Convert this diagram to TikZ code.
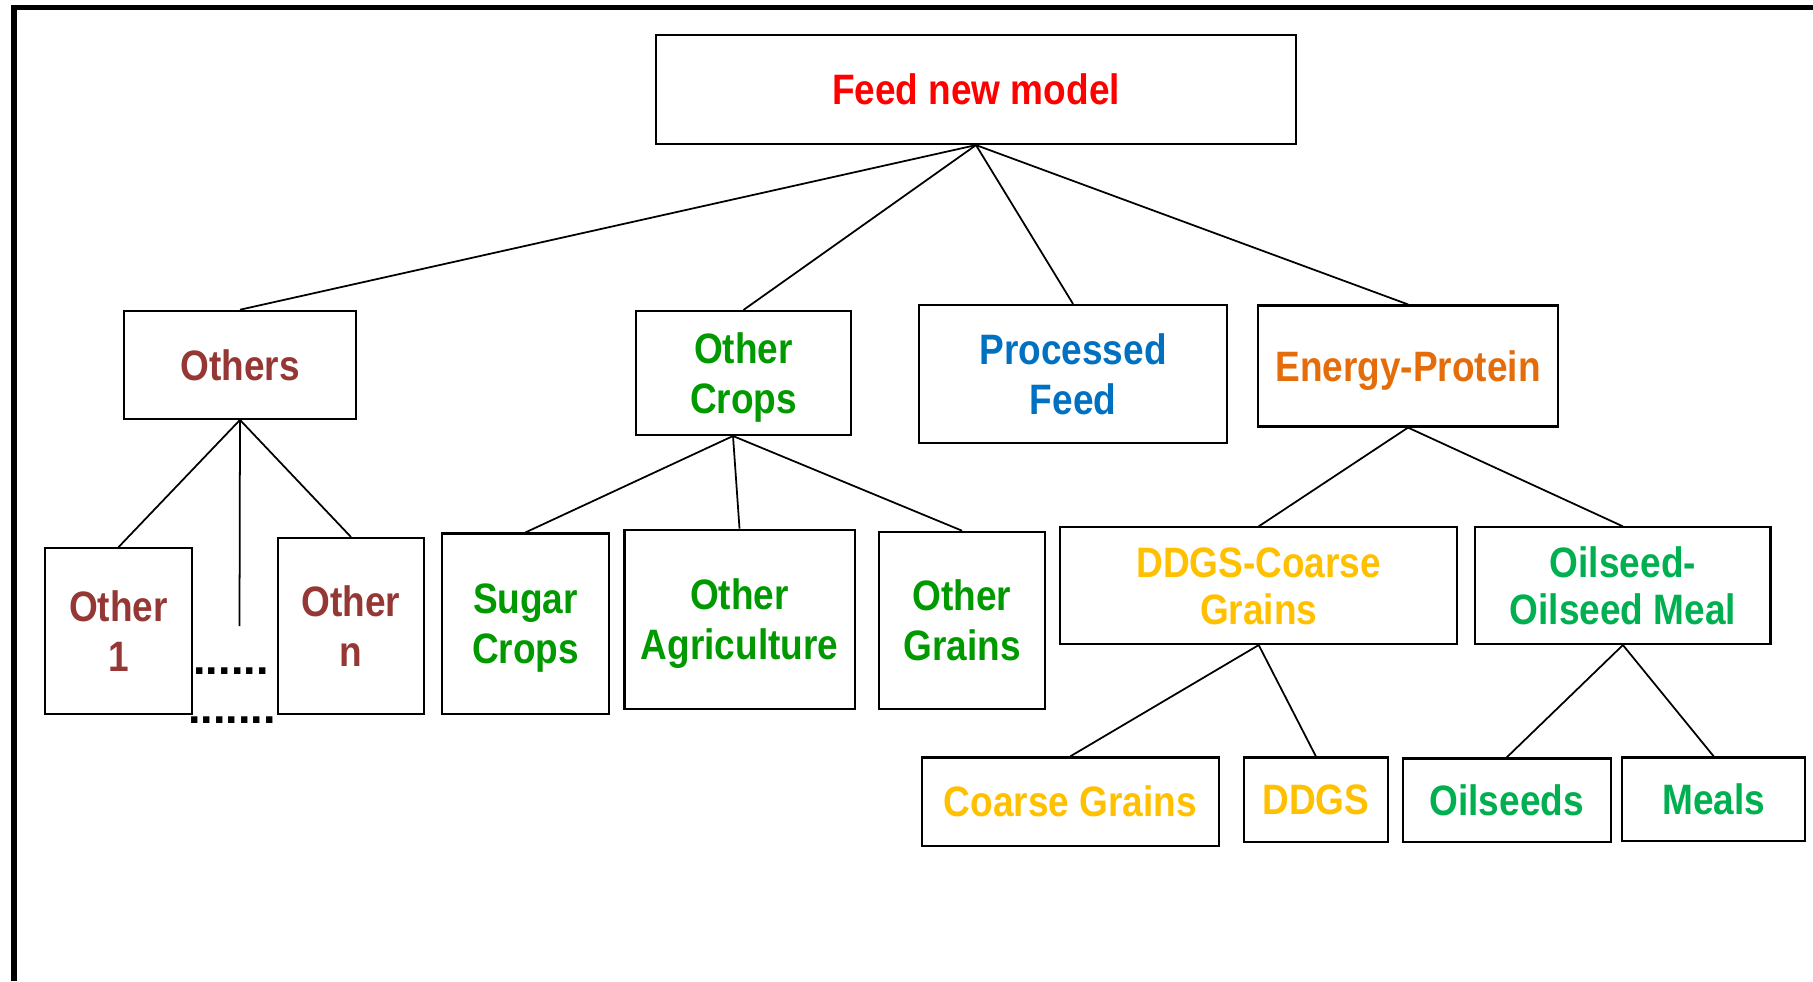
\documentclass[tikz,border=0pt]{standalone}
\usepackage{fontspec}
\setmainfont{Liberation Sans}[FakeStretch=0.87]
\newfontfamily\dotsfont{Liberation Sans}

\definecolor{topred}{HTML}{FF0000}
\definecolor{othbrown}{HTML}{953735}
\definecolor{cropgreen}{HTML}{009900}
\definecolor{procblue}{HTML}{0070C0}
\definecolor{enorange}{HTML}{E46C0A}
\definecolor{ddgsgold}{HTML}{FFC000}
\definecolor{oilgreen}{HTML}{00B050}

% one text line whose box is exactly cap height, so boxes centre on the capitals
\newcommand\capline[1]{\smash{#1}\rule{0pt}{0.716em}}

\tikzset{
  box/.style={draw, line width=0.6pt, rectangle, inner sep=0pt, align=center,
    font=\fontsize{12.1}{14.2}\selectfont\bfseries},
  tightbox/.style={box, font=\fontsize{12.1}{13.4}\selectfont\bfseries},
  link/.style={line width=0.5pt},
  dotrow/.style={inner sep=0pt, anchor=base,
    font=\dotsfont\bfseries\fontsize{12.8}{14}\selectfont},
}

\begin{document}
\begin{tikzpicture}[x=0.01cm, y=-0.01cm]
\useasboundingbox (0,0) rectangle (1813,981);

% outer frame (top and left edges)
\draw[line width=0.05cm] (14,981) -- (14,7) -- (1813,7);

% root
\node[box, minimum width=6.40cm, minimum height=1.09cm, text=topred] (feed) at (976,89.5)
  {\capline{Feed new model}};

% second level
\node[box, minimum width=2.32cm, minimum height=1.08cm, text=othbrown] (others) at (240,364.8)
  {\capline{Others}};
\node[box, minimum width=2.15cm, minimum height=1.24cm, text=cropgreen] (othercrops) at (743.5,373)
  {\capline{Other}\\\capline{Crops}};
\node[box, minimum width=3.08cm, minimum height=1.38cm, text=procblue] (processed) at (1073,374)
  {\capline{Processed}\\\capline{Feed}};
\node[box, minimum width=3.00cm, minimum height=1.21cm, text=enorange] (energy) at (1408,366)
  {\capline{Energy-Protein}};

% children of Others
\node[box, minimum width=1.47cm, minimum height=1.655cm, text=othbrown] (other1) at (118.5,631)
  {\capline{Other}\\\capline{1}};
\node[box, minimum width=1.466cm, minimum height=1.757cm, text=othbrown] (othern) at (351,626)
  {\capline{Other}\\\capline{n}};
\coordinate (othersmid) at (239.5,626);
\node[dotrow] (dotsupper) at (231,674.3) {......};
\node[dotrow] (dotslower) at (232,723.3) {.......};

% children of Other Crops
\node[box, minimum width=1.677cm, minimum height=1.80cm, text=cropgreen] (sugar) at (525.5,623.5)
  {\capline{Sugar}\\\capline{Crops}};
\node[box, minimum width=2.30cm, minimum height=1.79cm, text=cropgreen] (otheragri) at (739.5,619.2)
  {\capline{Other}\\\capline{Agriculture}};
\node[box, minimum width=1.665cm, minimum height=1.77cm, text=cropgreen] (othergrains) at (962,620.3)
  {\capline{Other}\\\capline{Grains}};
\coordinate (cropsjoin) at (733,436);

% children of Energy-Protein
\node[tightbox, minimum width=3.967cm, minimum height=1.165cm, text=ddgsgold] (ddgscoarse) at (1258.7,585.7)
  {\capline{DDGS-Coarse}\\\capline{Grains}};
\node[tightbox, minimum width=2.95cm, minimum height=1.165cm, text=oilgreen] (oilmeal) at (1622.9,585.7)
  {\capline{Oilseed-}\\\capline{Oilseed Meal}};

% bottom level
\node[box, minimum width=2.971cm, minimum height=0.885cm, text=ddgsgold] (coarse) at (1070.2,801.7)
  {\capline{Coarse Grains}};
\node[box, minimum width=1.433cm, minimum height=0.845cm, text=ddgsgold] (ddgs) at (1315.9,799.7)
  {\capline{DDGS}};
\node[box, minimum width=2.081cm, minimum height=0.835cm, text=oilgreen] (oilseeds) at (1506.7,800.2)
  {\capline{Oilseeds}};
\node[box, minimum width=1.827cm, minimum height=0.831cm, text=oilgreen] (meals) at (1713.7,799)
  {\capline{Meals}};

% connectors
\draw[link] (feed.south) -- (others.north);
\draw[link] (feed.south) -- (othercrops.north);
\draw[link] (feed.south) -- (processed.north);
\draw[link] (feed.south) -- (energy.north);

\draw[link] (others.south) -- (other1.north);
\draw[link] (others.south) -- (othersmid);
\draw[link] (others.south) -- (othern.north);

\draw[link] (cropsjoin) -- (sugar.north);
\draw[link] (cropsjoin) -- (otheragri.north);
\draw[link] (cropsjoin) -- (othergrains.north);

\draw[link] (energy.south) -- (ddgscoarse.north);
\draw[link] (energy.south) -- (oilmeal.north);

\draw[link] (ddgscoarse.south) -- (coarse.north);
\draw[link] (ddgscoarse.south) -- (ddgs.north);

\draw[link] (oilmeal.south) -- (oilseeds.north);
\draw[link] (oilmeal.south) -- (meals.north);
\end{tikzpicture}
\end{document}
